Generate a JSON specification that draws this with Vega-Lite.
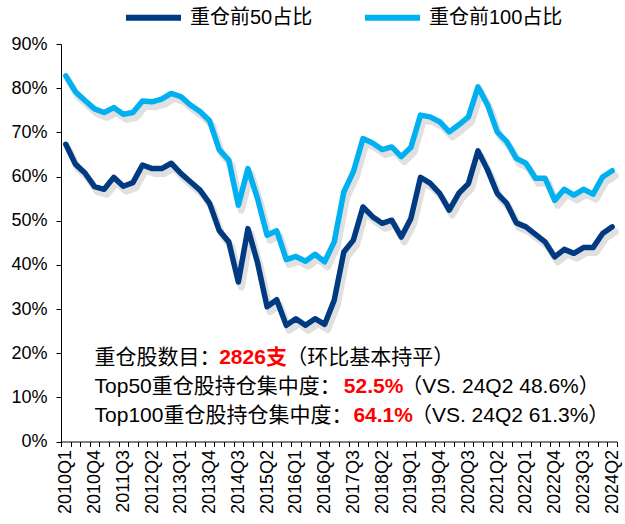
{
  "$schema": "https://vega.github.io/schema/vega-lite/v6.json",
  "width": 556,
  "height": 397.5,
  "autosize": {"type": "none"},
  "padding": {"left": 61, "top": 44, "right": 8, "bottom": 82.5},
  "background": "white",
  "config": {"view": {"stroke": null}, "font": "Liberation Sans, Noto Sans CJK SC"},
  "datasets": {
    "series": [
      {"q":"2010Q1","s":"重仓前50占比","v":0.673},{"q":"2010Q1","s":"重仓前100占比","v":0.828},
      {"q":"2010Q2","s":"重仓前50占比","v":0.628},{"q":"2010Q2","s":"重仓前100占比","v":0.792},
      {"q":"2010Q3","s":"重仓前50占比","v":0.608},{"q":"2010Q3","s":"重仓前100占比","v":0.772},
      {"q":"2010Q4","s":"重仓前50占比","v":0.577},{"q":"2010Q4","s":"重仓前100占比","v":0.753},
      {"q":"2011Q1","s":"重仓前50占比","v":0.571},{"q":"2011Q1","s":"重仓前100占比","v":0.745},
      {"q":"2011Q2","s":"重仓前50占比","v":0.598},{"q":"2011Q2","s":"重仓前100占比","v":0.756},
      {"q":"2011Q3","s":"重仓前50占比","v":0.578},{"q":"2011Q3","s":"重仓前100占比","v":0.741},
      {"q":"2011Q4","s":"重仓前50占比","v":0.586},{"q":"2011Q4","s":"重仓前100占比","v":0.745},
      {"q":"2012Q1","s":"重仓前50占比","v":0.626},{"q":"2012Q1","s":"重仓前100占比","v":0.771},
      {"q":"2012Q2","s":"重仓前50占比","v":0.618},{"q":"2012Q2","s":"重仓前100占比","v":0.769},
      {"q":"2012Q3","s":"重仓前50占比","v":0.618},{"q":"2012Q3","s":"重仓前100占比","v":0.775},
      {"q":"2012Q4","s":"重仓前50占比","v":0.630},{"q":"2012Q4","s":"重仓前100占比","v":0.788},
      {"q":"2013Q1","s":"重仓前50占比","v":0.607},{"q":"2013Q1","s":"重仓前100占比","v":0.781},
      {"q":"2013Q2","s":"重仓前50占比","v":0.588},{"q":"2013Q2","s":"重仓前100占比","v":0.762},
      {"q":"2013Q3","s":"重仓前50占比","v":0.569},{"q":"2013Q3","s":"重仓前100占比","v":0.747},
      {"q":"2013Q4","s":"重仓前50占比","v":0.539},{"q":"2013Q4","s":"重仓前100占比","v":0.726},
      {"q":"2014Q1","s":"重仓前50占比","v":0.478},{"q":"2014Q1","s":"重仓前100占比","v":0.661},
      {"q":"2014Q2","s":"重仓前50占比","v":0.452},{"q":"2014Q2","s":"重仓前100占比","v":0.637},
      {"q":"2014Q3","s":"重仓前50占比","v":0.361},{"q":"2014Q3","s":"重仓前100占比","v":0.535},
      {"q":"2014Q4","s":"重仓前50占比","v":0.482},{"q":"2014Q4","s":"重仓前100占比","v":0.618},
      {"q":"2015Q1","s":"重仓前50占比","v":0.405},{"q":"2015Q1","s":"重仓前100占比","v":0.550},
      {"q":"2015Q2","s":"重仓前50占比","v":0.305},{"q":"2015Q2","s":"重仓前100占比","v":0.467},
      {"q":"2015Q3","s":"重仓前50占比","v":0.321},{"q":"2015Q3","s":"重仓前100占比","v":0.477},
      {"q":"2015Q4","s":"重仓前50占比","v":0.263},{"q":"2015Q4","s":"重仓前100占比","v":0.412},
      {"q":"2016Q1","s":"重仓前50占比","v":0.278},{"q":"2016Q1","s":"重仓前100占比","v":0.419},
      {"q":"2016Q2","s":"重仓前50占比","v":0.263},{"q":"2016Q2","s":"重仓前100占比","v":0.408},
      {"q":"2016Q3","s":"重仓前50占比","v":0.278},{"q":"2016Q3","s":"重仓前100占比","v":0.424},
      {"q":"2016Q4","s":"重仓前50占比","v":0.265},{"q":"2016Q4","s":"重仓前100占比","v":0.407},
      {"q":"2017Q1","s":"重仓前50占比","v":0.320},{"q":"2017Q1","s":"重仓前100占比","v":0.452},
      {"q":"2017Q2","s":"重仓前50占比","v":0.429},{"q":"2017Q2","s":"重仓前100占比","v":0.565},
      {"q":"2017Q3","s":"重仓前50占比","v":0.456},{"q":"2017Q3","s":"重仓前100占比","v":0.611},
      {"q":"2017Q4","s":"重仓前50占比","v":0.531},{"q":"2017Q4","s":"重仓前100占比","v":0.686},
      {"q":"2018Q1","s":"重仓前50占比","v":0.509},{"q":"2018Q1","s":"重仓前100占比","v":0.676},
      {"q":"2018Q2","s":"重仓前50占比","v":0.494},{"q":"2018Q2","s":"重仓前100占比","v":0.661},
      {"q":"2018Q3","s":"重仓前50占比","v":0.501},{"q":"2018Q3","s":"重仓前100占比","v":0.667},
      {"q":"2018Q4","s":"重仓前50占比","v":0.463},{"q":"2018Q4","s":"重仓前100占比","v":0.645},
      {"q":"2019Q1","s":"重仓前50占比","v":0.505},{"q":"2019Q1","s":"重仓前100占比","v":0.666},
      {"q":"2019Q2","s":"重仓前50占比","v":0.598},{"q":"2019Q2","s":"重仓前100占比","v":0.739},
      {"q":"2019Q3","s":"重仓前50占比","v":0.585},{"q":"2019Q3","s":"重仓前100占比","v":0.735},
      {"q":"2019Q4","s":"重仓前50占比","v":0.562},{"q":"2019Q4","s":"重仓前100占比","v":0.724},
      {"q":"2020Q1","s":"重仓前50占比","v":0.524},{"q":"2020Q1","s":"重仓前100占比","v":0.701},
      {"q":"2020Q2","s":"重仓前50占比","v":0.562},{"q":"2020Q2","s":"重仓前100占比","v":0.717},
      {"q":"2020Q3","s":"重仓前50占比","v":0.584},{"q":"2020Q3","s":"重仓前100占比","v":0.735},
      {"q":"2020Q4","s":"重仓前50占比","v":0.658},{"q":"2020Q4","s":"重仓前100占比","v":0.803},
      {"q":"2021Q1","s":"重仓前50占比","v":0.615},{"q":"2021Q1","s":"重仓前100占比","v":0.762},
      {"q":"2021Q2","s":"重仓前50占比","v":0.562},{"q":"2021Q2","s":"重仓前100占比","v":0.701},
      {"q":"2021Q3","s":"重仓前50占比","v":0.539},{"q":"2021Q3","s":"重仓前100占比","v":0.679},
      {"q":"2021Q4","s":"重仓前50占比","v":0.495},{"q":"2021Q4","s":"重仓前100占比","v":0.641},
      {"q":"2022Q1","s":"重仓前50占比","v":0.486},{"q":"2022Q1","s":"重仓前100占比","v":0.630},
      {"q":"2022Q2","s":"重仓前50占比","v":0.469},{"q":"2022Q2","s":"重仓前100占比","v":0.596},
      {"q":"2022Q3","s":"重仓前50占比","v":0.452},{"q":"2022Q3","s":"重仓前100占比","v":0.596},
      {"q":"2022Q4","s":"重仓前50占比","v":0.418},{"q":"2022Q4","s":"重仓前100占比","v":0.546},
      {"q":"2023Q1","s":"重仓前50占比","v":0.435},{"q":"2023Q1","s":"重仓前100占比","v":0.571},
      {"q":"2023Q2","s":"重仓前50占比","v":0.426},{"q":"2023Q2","s":"重仓前100占比","v":0.558},
      {"q":"2023Q3","s":"重仓前50占比","v":0.439},{"q":"2023Q3","s":"重仓前100占比","v":0.571},
      {"q":"2023Q4","s":"重仓前50占比","v":0.439},{"q":"2023Q4","s":"重仓前100占比","v":0.560},
      {"q":"2024Q1","s":"重仓前50占比","v":0.471},{"q":"2024Q1","s":"重仓前100占比","v":0.599},
      {"q":"2024Q2","s":"重仓前50占比","v":0.486},{"q":"2024Q2","s":"重仓前100占比","v":0.613}
    ],
    "notes": [
      {"q":"2010Q4","v":0.19,"t":"重仓股数目：","k":"b"},
      {"q":"2014Q1","v":0.19,"t":"2826支","k":"r"},
      {"q":"2015Q4","v":0.19,"t":"（环比基本持平）","k":"b"},
      {"q":"2010Q4","v":0.124,"t":"Top50重仓股持仓集中度：","k":"b"},
      {"q":"2017Q2","v":0.124,"t":"52.5%","k":"r"},
      {"q":"2018Q4","v":0.124,"t":"（VS. 24Q2 48.6%）","k":"b"},
      {"q":"2010Q4","v":0.058,"t":"Top100重仓股持仓集中度：","k":"b"},
      {"q":"2017Q3","v":0.058,"t":"64.1%","k":"r"},
      {"q":"2019Q1","v":0.058,"t":"（VS. 24Q2 61.3%）","k":"b"}
    ]
  },
  "encoding": {
    "x": {
      "field": "q", "type": "ordinal", "bandPosition": 0.5,
      "scale": {"type": "band", "paddingInner": 0, "paddingOuter": 0},
      "axis": {
        "title": null, "labelAngle": 270, "labelFontSize": 18, "labelColor": "#000",
        "labelExpr": "((toNumber(substring(datum.value,0,4))-2010)*4 + toNumber(substring(datum.value,5,6)) - 1) % 3 == 0 ? datum.value : ''",
        "labelOverlap": false, "labelBound": false, "tickBand": "extent",
        "tickColor": "#000", "domainColor": "#000", "tickSize": 5, "labelPadding": 3, "grid": false
      }
    },
    "y": {
      "field": "v", "type": "quantitative",
      "scale": {"domain": [0, 0.9], "nice": false},
      "axis": {
        "title": null, "format": ".0%", "values": [0,0.1,0.2,0.3,0.4,0.5,0.6,0.7,0.8,0.9],
        "labelFontSize": 18, "labelColor": "#000", "tickColor": "#000", "domainColor": "#000",
        "tickSize": 5, "labelPadding": 9, "grid": false
      }
    }
  },
  "layer": [
    {
      "data": {"name": "series"},
      "mark": {"type": "line", "color": "#000", "opacity": 0.12, "strokeWidth": 7, "xOffset": 3, "yOffset": 5, "strokeJoin": "round", "strokeCap": "round"},
      "encoding": {"detail": {"field": "s"}}
    },
    {
      "data": {"name": "series"},
      "mark": {"type": "line", "strokeWidth": 5.5, "strokeJoin": "round", "strokeCap": "round"},
      "encoding": {
        "color": {
          "field": "s", "type": "nominal",
          "scale": {"domain": ["重仓前50占比", "重仓前100占比"], "range": ["#003A80", "#00B0F0"]},
          "legend": {
            "title": null, "orient": "none", "legendX": 62, "legendY": -57, "direction": "horizontal",
            "symbolType": "stroke", "symbolSize": 3025, "symbolStrokeWidth": 6,
            "labelFontSize": 20, "labelColor": "#000", "labelOffset": 6, "columnPadding": 40
          }
        }
      }
    },
    {
      "data": {"name": "notes"},
      "transform": [{"filter": "datum.k == 'b'"}],
      "mark": {"type": "text", "align": "left", "baseline": "middle", "fontSize": 21, "color": "#000"},
      "encoding": {"text": {"field": "t"}}
    },
    {
      "data": {"name": "notes"},
      "transform": [{"filter": "datum.k == 'r'"}],
      "mark": {"type": "text", "align": "left", "baseline": "middle", "fontSize": 21, "fontWeight": "bold", "color": "#FF0000"},
      "encoding": {"text": {"field": "t"}}
    }
  ]
}
